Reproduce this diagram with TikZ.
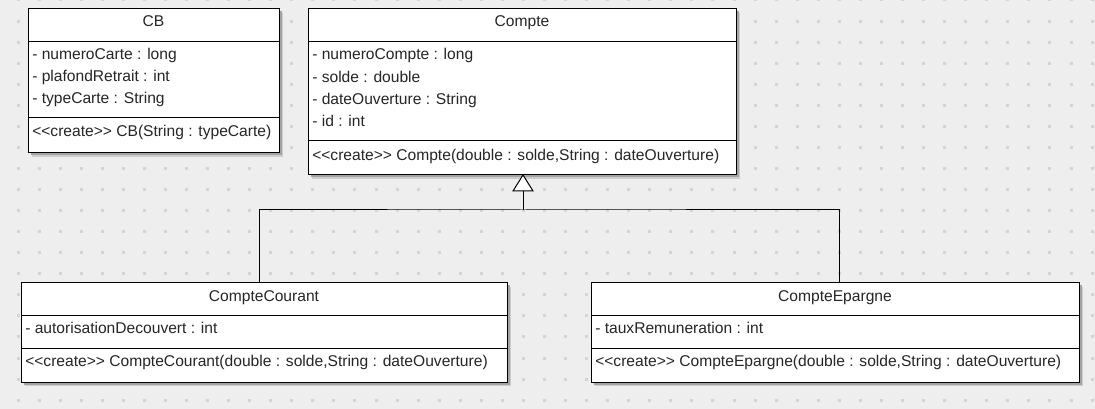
\documentclass[tikz,border=0pt]{standalone}
\usepackage{fontspec}
\setmainfont{Liberation Sans}
\usetikzlibrary{calc}
\newcommand\ltlt{<\kern0pt<}
\newcommand\gtgt{>\kern0pt>}
\definecolor{bgc}{HTML}{EEEEEE}
\definecolor{dotc}{HTML}{D4D4D4}
\definecolor{shc}{HTML}{A4A4A4}
\definecolor{shl}{HTML}{CDCDCD}
\begin{document}
\begin{tikzpicture}[x=0.75pt,y=-0.75pt,
  font=\fontsize{11.7pt}{14pt}\selectfont,
  box/.style={draw=black, line width=0.75pt, fill=white, anchor=north west, inner sep=0pt, outer sep=0pt},
  sepline/.style={line width=0.75pt},
  conn/.style={line width=0.75pt, draw=black},
  txt/.style={anchor=base west, inner sep=0pt, text=black!85},
  ttl/.style={anchor=base, inner sep=0pt, text=black!85}]
\useasboundingbox (0,0) rectangle (1095,409);
\fill[bgc] (0,0) rectangle (1095,409);
\foreach \i in {0,...,51}{
  \foreach \j in {0,...,19}{
    \fill[dotc] ({18+21.06*\i-1.5},{21.06*\j-1.5}) rectangle ++(3,3);
  }
}
% shadows: (x1,y1,x2,y2)
\foreach \xa/\ya/\xb/\yb in {28/9/279/153, 308/9/736/175, 21/283/507/382, 591/283/1079/382}{
  \fill[shl] (\xa+4,\ya+4) rectangle (\xb+4,\yb+4);
  \fill[shc] (\xa+2.5,\ya+2.5) rectangle (\xb+2.5,\yb+2.5);
}
% ---------- CB
\node[box, minimum width=251*0.75pt, minimum height=144*0.75pt] (cb) at (28,9) {};
\draw[sepline] (28,42) -- (279,42);
\draw[sepline] (28,118) -- (279,118);
\node[ttl] (cbT) at (153.5,27) {CB};
\node[txt] (cbA1) at (32,60) {- numeroCarte : long};
\node[txt] (cbA2) at (32,82) {- plafondRetrait : int};
\node[txt] (cbA3) at (32,104) {- typeCarte : String};
\node[txt] (cbM1) at (32,137) {\ltlt create\gtgt{} CB(String : typeCarte)};
% ---------- Compte
\node[box, minimum width=428*0.75pt, minimum height=166*0.75pt] (compte) at (308,9) {};
\draw[sepline] (308,42) -- (736,42);
\draw[sepline] (308,141) -- (736,141);
\node[ttl] (compteT) at (522,27) {Compte};
\node[txt] (compteA1) at (312,60) {- numeroCompte : long};
\node[txt] (compteA2) at (312,82.5) {- solde : double};
\node[txt] (compteA3) at (312,105) {- dateOuverture : String};
\node[txt] (compteA4) at (312,127) {- id : int};
\node[txt] (compteM1) at (312,161) {\ltlt create\gtgt{} Compte(double : solde,String : dateOuverture)};
% ---------- CompteCourant
\node[box, minimum width=486*0.75pt, minimum height=99*0.75pt] (courant) at (21,283) {};
\draw[sepline] (21,316) -- (507,316);
\draw[sepline] (21,349) -- (507,349);
\node[ttl] (courantT) at (264,302) {CompteCourant};
\node[txt] (courantA1) at (25,334) {- autorisationDecouvert : int};
\node[txt] (courantM1) at (25,367) {\ltlt create\gtgt{} CompteCourant(double : solde,String : dateOuverture)};
% ---------- CompteEpargne
\node[box, minimum width=488*0.75pt, minimum height=99*0.75pt] (epargne) at (591,283) {};
\draw[sepline] (591,316) -- (1079,316);
\draw[sepline] (591,349) -- (1079,349);
\node[ttl] (epargneT) at (835,302) {CompteEpargne};
\node[txt] (epargneA1) at (595,334) {- tauxRemuneration : int};
\node[txt] (epargneM1) at (595,367) {\ltlt create\gtgt{} CompteEpargne(double : solde,String : dateOuverture)};
% ---------- generalization
\coordinate (tip) at (523,175);
\coordinate (tribase) at (523,191);
\coordinate (junc) at (523,210);
\coordinate (ccTop) at (259,283);
\coordinate (ceTop) at (839,283);
\draw[conn] (ccTop) |- (junc) -| (ceTop);
\draw[conn] (junc) -- (tribase);
\draw[conn, fill=white] (tip) -- ($(tribase)+(-10,0)$) -- ($(tribase)+(10,0)$) -- cycle;
\end{tikzpicture}
\end{document}
